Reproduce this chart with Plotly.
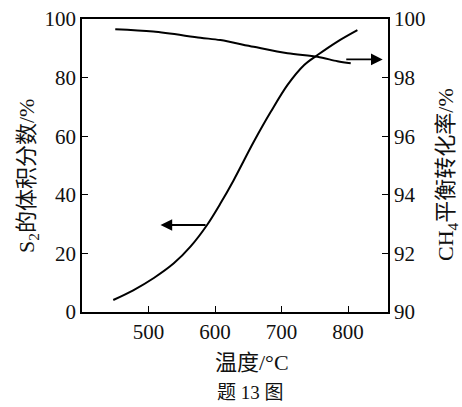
import plotly.graph_objects as go

# S2 volume fraction (left axis)
temp_s2 = [447, 477, 508, 538, 563, 588, 608, 628, 658, 684, 709, 734, 754, 784, 814]
s2_frac = [4.1, 7.4, 11.6, 16.6, 22.3, 29.7, 37, 45, 58, 68.4, 77.5, 84.3, 87.7, 92.3, 96.2]

# CH4 equilibrium conversion (right axis)
temp_ch4 = [450, 507, 578, 608, 658, 709, 754, 784, 804]
ch4_conv = [99.65, 99.57, 99.36, 99.28, 99.05, 98.83, 98.71, 98.56, 98.49]

x_ticks = [500, 600, 700, 800]
left_ticks = [0, 20, 40, 60, 80, 100]
right_ticks = [90, 92, 94, 96, 98, 100]

FONT = "Liberation Serif, Noto Sans CJK SC"

fig = go.Figure()
fig.add_trace(go.Scatter(x=temp_s2, y=s2_frac, mode="lines",
                         line=dict(color="black", width=2, shape="spline", smoothing=0.9),
                         showlegend=False, hoverinfo="skip"))
fig.add_trace(go.Scatter(x=temp_ch4, y=ch4_conv, mode="lines", yaxis="y2",
                         line=dict(color="black", width=2, shape="spline", smoothing=0.9),
                         showlegend=False, hoverinfo="skip"))

axis_common = dict(ticks="inside", ticklen=6, tickcolor="black", showline=True,
                   linecolor="black", linewidth=1.5, showgrid=False, zeroline=False,
                   automargin=False, tickfont=dict(size=21))

fig.update_layout(
    template="none",
    width=462, height=407,
    margin=dict(l=82, r=74, t=19, b=95, pad=0),
    paper_bgcolor="white", plot_bgcolor="white",
    font=dict(family=FONT, size=20, color="#111"),
    xaxis=dict(range=[400, 860], tickvals=x_ticks, mirror=True, **axis_common),
    yaxis=dict(range=[0, 100], tickvals=left_ticks, **axis_common),
    yaxis2=dict(range=[90, 100], tickvals=right_ticks, overlaying="y", side="right",
                **axis_common),
)

annotations = [
    dict(x=518, y=29.7, ax=588, ay=29.7, xref="x", yref="y", axref="x", ayref="y",
         showarrow=True, arrowhead=2, arrowsize=1.3, arrowwidth=1.8, arrowcolor="black", text=""),
    dict(x=852, y=98.62, ax=795, ay=98.62, xref="x", yref="y2", axref="x", ayref="y2",
         showarrow=True, arrowhead=2, arrowsize=1.3, arrowwidth=1.8, arrowcolor="black", text=""),
    dict(x=28, y=176, text="S<sub>2</sub>的体积分数/%",
         textangle=-90, showarrow=False, font=dict(size=22)),
    dict(x=447, y=175, text="CH<sub>4</sub>平衡转化率/%",
         textangle=-90, showarrow=False, font=dict(size=22)),
    dict(x=252, y=362, text="温度/°C", showarrow=False, font=dict(size=22)),
    dict(x=250, y=393, text="题 13 图", showarrow=False, font=dict(size=19)),
]
# convert pixel-positioned labels to paper coordinates
pw, ph = 462 - 82 - 74, 407 - 19 - 95
for a in annotations[2:]:
    px, py = a["x"], a["y"]
    a["x"] = (px - 82) / pw
    a["y"] = (407 - 95 - py) / ph
    a["xref"] = "paper"
    a["yref"] = "paper"
    a["xanchor"] = "center"
    a["yanchor"] = "middle"
fig.update_layout(annotations=annotations)

fig.write_html("out.html", config={"displayModeBar": False},
               post_script="document.body.style.margin='0';document.body.style.overflow='hidden';")
